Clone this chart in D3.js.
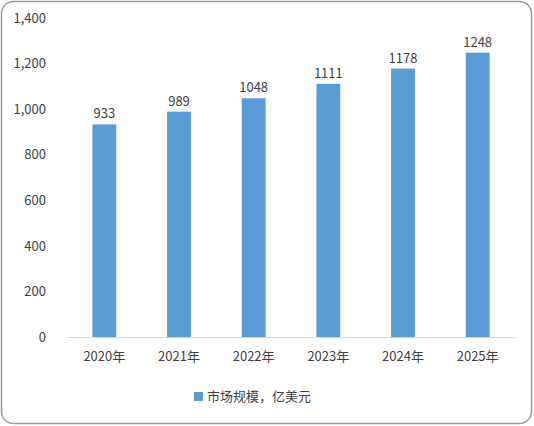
<!DOCTYPE html>
<html><head><meta charset="utf-8">
<script src="https://cdn.jsdelivr.net/npm/d3@7"></script>
<style>body{margin:0;background:#fff}</style></head>
<body><svg id="c" width="534" height="426"></svg>
<script>
const categories=["2020年","2021年","2022年","2023年","2024年","2025年"];
const values=[933,989,1048,1111,1178,1248];
const yTicks=[0,200,400,600,800,1000,1200,1400];
const seriesName="市场规模，亿美元";
const font="'Noto Sans CJK SC', 'Liberation Sans', sans-serif";
const svg=d3.select("#c");
svg.append("rect").attr("x",1.5).attr("y",1.5).attr("width",530).attr("height",422).attr("rx",12)
 .attr("fill","#fff").attr("stroke","#9a9a9a").attr("stroke-width",1.5);
const x=d3.scaleBand().domain(categories).range([67,515]).paddingInner(0.68).paddingOuter(0.34);
const y=d3.scaleLinear().domain([0,1400]).range([337,18]);
const ya=svg.append("g").attr("transform","translate(60,0)").call(d3.axisLeft(y).tickValues(yTicks).tickSize(0).tickPadding(14));
ya.select(".domain").remove();
ya.selectAll("text").attr("font-family",font).attr("font-size",13).attr("fill","#404040");
const xa=svg.append("g").attr("transform","translate(0,337)").call(d3.axisBottom(x).tickSize(0).tickPadding(15));
xa.select(".domain").attr("stroke","#d9d9d9");
xa.selectAll("text").attr("font-family",font).attr("font-size",13).attr("fill","#404040");
svg.selectAll(".bar").data(values).enter().append("rect")
 .attr("x",(d,i)=>x(categories[i])).attr("width",x.bandwidth())
 .attr("y",d=>y(d)).attr("height",d=>y(0)-y(d)).attr("fill","#5b9bd5");
svg.selectAll(".lbl").data(values).enter().append("text")
 .attr("x",(d,i)=>x(categories[i])+x.bandwidth()/2).attr("y",d=>y(d)-6)
 .attr("text-anchor","middle").attr("font-family",font).attr("font-size",13).attr("fill","#404040").text(d=>d);
svg.append("rect").attr("x",194).attr("y",392).attr("width",9).attr("height",9).attr("fill","#5b9bd5");
svg.append("text").attr("x",207).attr("y",401).attr("font-family",font).attr("font-size",13).attr("fill","#404040").text(seriesName);
</script></body></html>
